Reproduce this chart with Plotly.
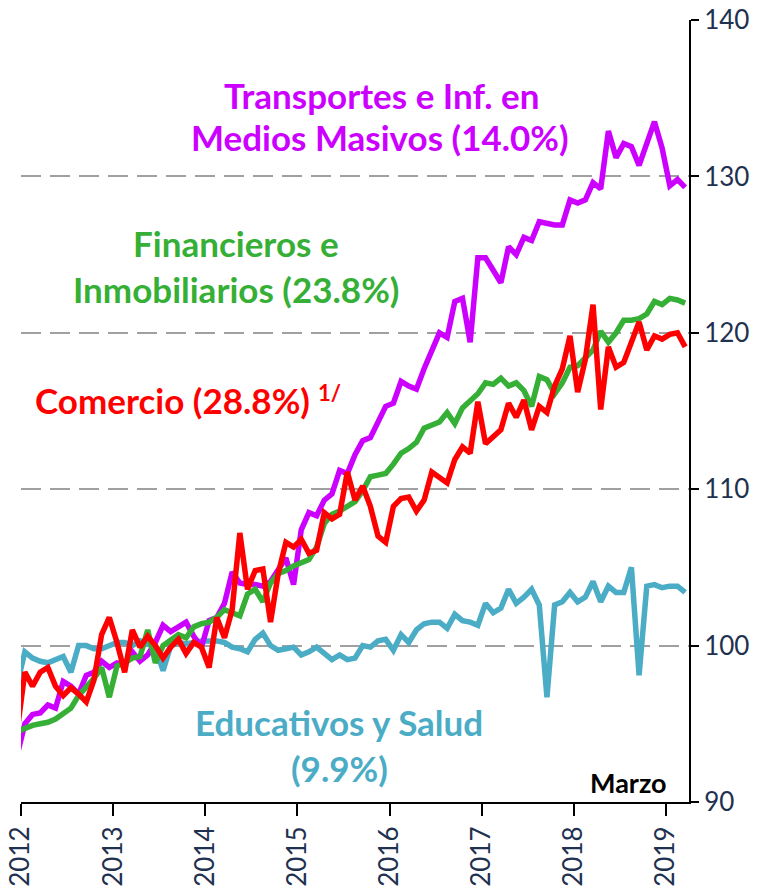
import numpy as np
import pandas as pd
import plotly.graph_objects as go

# Monthly index, Dec-2011 (clipped at left edge) .. Mar-2019
months = pd.date_range("2011-12-01", "2019-03-01", freq="MS")

educativos = [97.5, 99.6, 99.2, 99.0, 98.9, 99.1, 99.3, 98.3, 100.0, 100.0, 99.8, 99.8, 100.0,
              100.2, 100.2, 100.0, 100.3, 100.1, 99.9, 98.4, 100.0, 100.2, 100.1, 100.2, 100.3,
              100.3, 100.3, 100.2, 99.9, 99.8, 99.6, 100.4, 100.8, 100.0, 99.7, 99.8, 99.9,
              99.4, 99.6, 99.9, 99.5, 99.1, 99.4, 99.1, 99.2, 100.0, 99.9, 100.3, 100.4,
              99.7, 100.7, 100.2, 101.0, 101.4, 101.5, 101.5, 101.1, 102.0, 101.6, 101.5, 101.3,
              102.7, 102.1, 102.4, 103.6, 102.7, 103.1, 103.6, 102.6, 96.7, 102.6, 102.8, 103.4,
              102.8, 103.1, 104.1, 102.8, 103.8, 103.4, 103.4, 105.0, 98.1, 103.8, 103.9, 103.7,
              103.8, 103.8, 103.4]

transportes = [93.0, 95.0, 95.6, 95.7, 96.2, 96.0, 97.7, 97.4, 96.9, 98.1, 98.3, 99.0, 98.6,
               98.9, 98.8, 99.6, 99.0, 99.4, 100.2, 101.3, 100.9, 101.2, 101.5, 100.6, 99.9,
               101.6, 101.8, 102.7, 104.7, 104.0, 103.9, 103.9, 103.8, 104.1, 104.9, 105.6, 103.9,
               107.4, 108.5, 108.3, 109.3, 109.7, 111.2, 111.0, 112.2, 113.1, 113.3, 114.4, 115.3,
               115.5, 116.9, 116.6, 116.4, 117.7, 118.9, 120.0, 119.7, 122.0, 122.2, 119.4, 124.8,
               124.8, 124.0, 123.2, 125.5, 125.0, 126.1, 125.9, 127.1, 127.0, 126.9, 126.9, 128.5,
               128.3, 128.5, 129.6, 129.2, 132.9, 131.2, 132.1, 131.9, 130.7, 132.1, 133.5, 131.8,
               129.4, 129.8, 129.3]

financieros = [94.5, 94.7, 94.9, 95.0, 95.1, 95.3, 95.6, 96.0, 96.8, 97.3, 97.9, 98.6, 96.7,
               98.7, 98.9, 99.2, 99.3, 101.0, 98.9, 100.0, 100.4, 100.7, 100.5, 101.2, 101.4,
               101.5, 101.8, 102.3, 102.1, 101.9, 103.3, 103.6, 102.8, 104.0, 104.6, 104.8, 105.1,
               105.3, 105.5, 106.3, 107.8, 108.4, 108.6, 108.9, 109.2, 109.9, 110.8, 110.9, 111.0,
               111.6, 112.3, 112.6, 113.0, 113.9, 114.1, 114.3, 114.9, 114.2, 115.2, 115.7, 116.1,
               116.8, 116.7, 117.1, 116.6, 116.8, 116.3, 115.3, 117.2, 117.0, 116.1, 116.8, 117.8,
               117.9, 118.4, 118.9, 120.1, 119.4, 120.0, 120.8, 120.8, 120.9, 121.2, 122.0, 121.8,
               122.2, 122.1, 121.9]

comercio = [94.5, 98.3, 97.4, 98.3, 98.6, 97.4, 96.8, 97.3, 96.9, 96.4, 97.8, 100.7, 101.8,
            100.2, 98.3, 101.0, 99.9, 100.6, 100.0, 99.2, 99.9, 100.4, 99.5, 100.2, 99.9,
            98.6, 101.8, 100.5, 102.3, 107.2, 103.6, 104.8, 104.9, 101.5, 104.6, 106.6, 106.3,
            106.8, 105.9, 106.1, 108.5, 108.1, 108.4, 111.1, 109.3, 110.2, 108.9, 107.0, 106.6,
            108.9, 109.4, 109.5, 108.6, 109.3, 111.1, 110.8, 110.4, 111.9, 112.7, 112.3, 115.6,
            112.9, 113.4, 113.8, 115.5, 114.6, 115.7, 113.8, 115.3, 114.9, 116.6, 117.7, 119.8,
            116.2, 118.3, 121.8, 115.1, 119.1, 117.8, 118.1, 119.4, 120.7, 118.9, 119.8, 119.6,
            119.9, 120.0, 119.1]

year_ticks = [2012, 2013, 2014, 2015, 2016, 2017, 2018, 2019]
y_ticks = [90, 100, 110, 120, 130, 140]

for s in (educativos, transportes, financieros, comercio):
    assert len(s) == len(months), len(s)

# points placed at mid-month on a fractional-year axis
x = months.year + (months.month - 0.5) / 12.0

series = [
    ("Educativos y Salud", educativos, "#4BACC6"),
    ("Transportes", transportes, "#CC00FF"),
    ("Financieros", financieros, "#35AF35"),
    ("Comercio", comercio, "#FF0000"),
]

fig = go.Figure()
for name, vals, col in series:
    fig.add_trace(go.Scatter(x=x, y=vals, mode="lines", name=name,
                             line=dict(color=col, width=5.5), showlegend=False,
                             hoverinfo="skip"))

W, H = 768, 890
L, R, T, B = 21, 689, 20, 802
TICKCOL = "#1F3150"

fig.update_layout(
    width=W, height=H,
    margin=dict(l=L, r=W - R, t=T, b=H - B, autoexpand=False),
    paper_bgcolor="white", plot_bgcolor="white",
    font=dict(family="Lato, sans-serif"),
    showlegend=False,
)
fig.update_xaxes(
    range=[2012, 2019.25], tickvals=year_ticks, ticktext=[str(v) for v in year_ticks],
    tickangle=-90, tickfont=dict(size=26, color=TICKCOL, family="Lato"),
    showgrid=False, zeroline=False, showline=True, linecolor="black", linewidth=2,
    ticks="outside", ticklen=12, tickwidth=2, tickcolor="black", automargin=False,
)
fig.update_yaxes(
    side="right", range=[90, 140], tickvals=y_ticks,
    tickfont=dict(size=26, color=TICKCOL, family="Lato"),
    showgrid=True, gridcolor="#A0A0A0", gridwidth=2, griddash="20px,9px",
    zeroline=False, showline=True, linecolor="black", linewidth=2,
    ticks="outside", ticklen=8, tickwidth=2, tickcolor="black", automargin=False,
)


def px2paper(px, py):
    return (px - L) / (R - L), (B - py) / (B - T)


def label(text, px, py, color, size=35, xanchor="center"):
    xx, yy = px2paper(px, py)
    fig.add_annotation(text=text, x=xx, y=yy, xref="paper", yref="paper",
                       xanchor=xanchor, yanchor="middle", showarrow=False,
                       font=dict(family="Lato", size=size, color=color))


label("<b>Transportes e Inf. en</b>", 381, 95, "#CC00FF")
label("<b>Medios Masivos (14.0%)</b>", 380, 137, "#CC00FF")
label("<b>Financieros e</b>", 236, 243, "#35AF35")
label("<b>Inmobiliarios (23.8%)</b>", 236, 289, "#35AF35")
label("<b>Comercio (28.8%)</b>", 33, 400, "#FF0000", xanchor="left")
label("<b>1/</b>", 316, 392, "#FF0000", size=22, xanchor="left")
label("<b>Educativos y Salud</b>", 339, 722, "#4BACC6")
label("<b>(9.9%)</b>", 339, 768, "#4BACC6")
label("<b>Marzo</b>", 628, 782, "black", size=27)

fig.write_html(
    "out.html",
    config={"displayModeBar": False, "staticPlot": True},
    post_script="document.body.style.margin='0';document.body.style.padding='0';"
                "document.documentElement.style.overflow='hidden';",
)
